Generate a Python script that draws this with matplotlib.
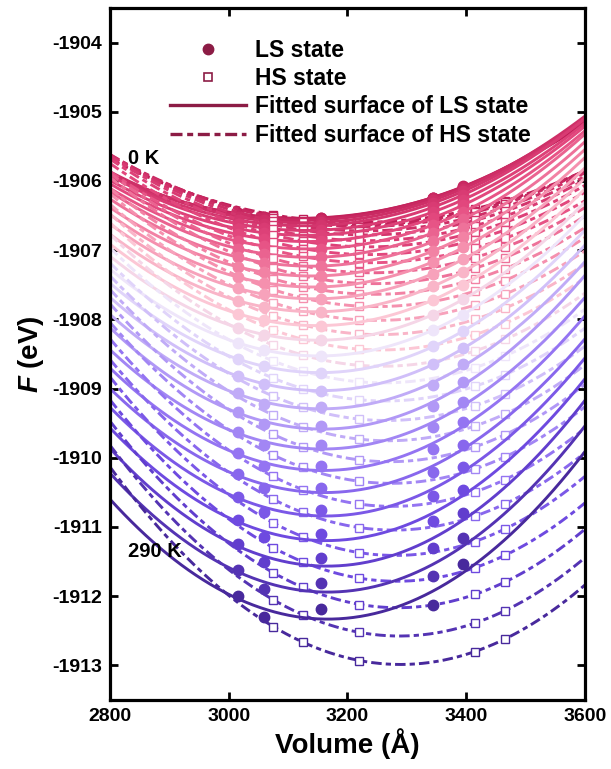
import numpy as np
import matplotlib
import matplotlib.pyplot as plt
from matplotlib.colors import LinearSegmentedColormap
from matplotlib.lines import Line2D

matplotlib.use('Agg')

plt.rcParams['font.family'] = ['Liberation Sans', 'DejaVu Sans']
plt.rcParams['font.weight'] = 'bold'
plt.rcParams['axes.unicode_minus'] = False
plt.rcParams['mathtext.fontset'] = 'custom'
plt.rcParams['mathtext.it'] = 'Liberation Sans:bold:italic'

# temperatures 0 K ... 290 K
temperatures = list(range(0, 300, 10))

ls_volumes = [3015, 3060, 3155, 3345, 3395]
hs_volumes = [3075, 3125, 3220, 3415, 3465]

# free energy (eV) of LS state, one row per temperature
ls_F = [
    [-1906.47, -1906.52, -1906.53, -1906.24, -1906.09],
    [-1906.48, -1906.52, -1906.54, -1906.24, -1906.08],
    [-1906.49, -1906.54, -1906.56, -1906.25, -1906.09],
    [-1906.52, -1906.57, -1906.60, -1906.28, -1906.11],
    [-1906.56, -1906.62, -1906.64, -1906.32, -1906.15],
    [-1906.62, -1906.68, -1906.71, -1906.38, -1906.20],
    [-1906.69, -1906.75, -1906.78, -1906.45, -1906.27],
    [-1906.77, -1906.84, -1906.87, -1906.53, -1906.35],
    [-1906.87, -1906.94, -1906.98, -1906.63, -1906.45],
    [-1906.98, -1907.05, -1907.10, -1906.75, -1906.55],
    [-1907.10, -1907.18, -1907.23, -1906.87, -1906.68],
    [-1907.24, -1907.32, -1907.37, -1907.01, -1906.81],
    [-1907.39, -1907.47, -1907.53, -1907.17, -1906.96],
    [-1907.55, -1907.64, -1907.70, -1907.34, -1907.13],
    [-1907.73, -1907.82, -1907.89, -1907.52, -1907.31],
    [-1907.92, -1908.01, -1908.09, -1907.72, -1907.50],
    [-1908.12, -1908.22, -1908.30, -1907.93, -1907.71],
    [-1908.34, -1908.44, -1908.53, -1908.15, -1907.93],
    [-1908.57, -1908.68, -1908.77, -1908.39, -1908.17],
    [-1908.82, -1908.93, -1909.03, -1908.65, -1908.42],
    [-1909.07, -1909.22, -1909.26, -1908.95, -1908.65],
    [-1909.34, -1909.51, -1909.54, -1909.25, -1908.91],
    [-1909.63, -1909.81, -1909.82, -1909.55, -1909.20],
    [-1909.93, -1910.12, -1910.12, -1909.87, -1909.49],
    [-1910.24, -1910.44, -1910.43, -1910.21, -1909.81],
    [-1910.56, -1910.78, -1910.76, -1910.55, -1910.13],
    [-1910.90, -1911.14, -1911.10, -1910.92, -1910.46],
    [-1911.25, -1911.51, -1911.45, -1911.31, -1910.80],
    [-1911.62, -1911.89, -1911.81, -1911.71, -1911.16],
    [-1912.00, -1912.30, -1912.18, -1912.12, -1911.53],
]

# free energy (eV) of HS state, one row per temperature
hs_F = [
    [-1906.49, -1906.55, -1906.60, -1906.40, -1906.29],
    [-1906.51, -1906.58, -1906.63, -1906.43, -1906.31],
    [-1906.53, -1906.60, -1906.66, -1906.45, -1906.33],
    [-1906.58, -1906.66, -1906.72, -1906.51, -1906.38],
    [-1906.63, -1906.71, -1906.78, -1906.57, -1906.44],
    [-1906.70, -1906.79, -1906.86, -1906.65, -1906.51],
    [-1906.78, -1906.87, -1906.95, -1906.74, -1906.60],
    [-1906.88, -1906.98, -1907.06, -1906.85, -1906.71],
    [-1907.00, -1907.09, -1907.18, -1906.97, -1906.83],
    [-1907.12, -1907.23, -1907.32, -1907.11, -1906.96],
    [-1907.26, -1907.37, -1907.48, -1907.26, -1907.11],
    [-1907.41, -1907.53, -1907.63, -1907.42, -1907.27],
    [-1907.57, -1907.69, -1907.81, -1907.59, -1907.44],
    [-1907.76, -1907.88, -1908.01, -1907.79, -1907.64],
    [-1907.95, -1908.08, -1908.21, -1908.00, -1907.84],
    [-1908.15, -1908.29, -1908.43, -1908.22, -1908.06],
    [-1908.37, -1908.52, -1908.66, -1908.46, -1908.29],
    [-1908.60, -1908.75, -1908.90, -1908.70, -1908.53],
    [-1908.85, -1909.00, -1909.16, -1908.97, -1908.80],
    [-1909.11, -1909.27, -1909.44, -1909.25, -1909.08],
    [-1909.38, -1909.55, -1909.73, -1909.54, -1909.37],
    [-1909.66, -1909.84, -1910.03, -1909.84, -1909.67],
    [-1909.96, -1910.14, -1910.34, -1910.16, -1909.99],
    [-1910.27, -1910.46, -1910.67, -1910.49, -1910.32],
    [-1910.60, -1910.79, -1911.01, -1910.84, -1910.67],
    [-1910.94, -1911.14, -1911.37, -1911.21, -1911.03],
    [-1911.30, -1911.50, -1911.74, -1911.59, -1911.41],
    [-1911.66, -1911.87, -1912.12, -1911.97, -1911.80],
    [-1912.05, -1912.27, -1912.52, -1912.39, -1912.21],
    [-1912.44, -1912.66, -1912.93, -1912.80, -1912.62],
]

LEGEND_COLOR = '#8c1c45'

cmap = LinearSegmentedColormap.from_list('spin', [
    (0.00, '#bf1d57'),
    (0.25, '#e4497f'),
    (0.40, '#f48aaa'),
    (0.52, '#fcc8d6'),
    (0.59, '#eee6fb'),
    (0.68, '#c4b0f8'),
    (0.80, '#9272f2'),
    (0.91, '#6a45de'),
    (1.00, '#48299c'),
])

hs_dash = (0, (3.6, 1.4, 1.8, 1.4))

fig = plt.figure(figsize=(6.11, 7.69), dpi=100)
ax = fig.add_axes([0.180, 0.0897, 0.777, 0.9])

v_fit = np.linspace(2800, 3600, 200)
n = len(temperatures)

for i, T in enumerate(temperatures):
    c = cmap(i / (n - 1))

    # quadratic fit of each state at this temperature
    p_ls = np.polyfit(ls_volumes, ls_F[i], 2)
    p_hs = np.polyfit(hs_volumes, hs_F[i], 2)

    ax.plot(v_fit, np.polyval(p_ls, v_fit), '-', c=c, lw=2.1)
    ax.plot(v_fit, np.polyval(p_hs, v_fit), ls=hs_dash, c=c, lw=2.1)
    ax.plot(ls_volumes, ls_F[i], 'o', c=c, ms=7.5, mec=c)
    ax.plot(hs_volumes, hs_F[i], 's', c=c, ms=5.5, mfc='white', mec=c, mew=1)

ax.text(2830, -1905.67, '0 K', fontsize=14.5, fontweight='bold', va='center')
ax.text(2830, -1911.35, '290 K', fontsize=14.5, fontweight='bold', va='center')

ax.set_xlim(2800, 3600)
ax.set_ylim(-1913.5, -1903.5)
ax.set_xticks([2800, 3000, 3200, 3400, 3600])
ax.set_yticks(range(-1913, -1903))
ax.set_yticklabels([str(v) for v in range(-1913, -1903)])

ax.tick_params(direction='in', length=6, width=2, labelsize=14,
               top=True, right=True, pad=6)
for s in ax.spines.values():
    s.set_linewidth(2.3)

ax.set_xlabel('Volume (Å)', fontsize=20, fontweight='bold', labelpad=2)
ax.set_ylabel('$F$ (eV)', fontsize=20, fontweight='bold', labelpad=4)

handles = [
    Line2D([], [], ls='none', marker='o', ms=7.5, c=LEGEND_COLOR),
    Line2D([], [], ls='none', marker='s', ms=6, mfc='white',
           mec=LEGEND_COLOR, mew=1.2),
    Line2D([], [], ls='-', lw=2.4, c=LEGEND_COLOR),
    Line2D([], [], ls=hs_dash, lw=2.4, c=LEGEND_COLOR),
]
labels = ['LS state', 'HS state', 'Fitted surface of LS state',
          'Fitted surface of HS state']
ax.legend(handles, labels, loc='upper left', bbox_to_anchor=(0.088, 0.982),
          frameon=False, fontsize=16.5, handlelength=3.3, handletextpad=0.4,
          labelspacing=0.23, borderpad=0.3)

fig.savefig('out.png', dpi=100)
